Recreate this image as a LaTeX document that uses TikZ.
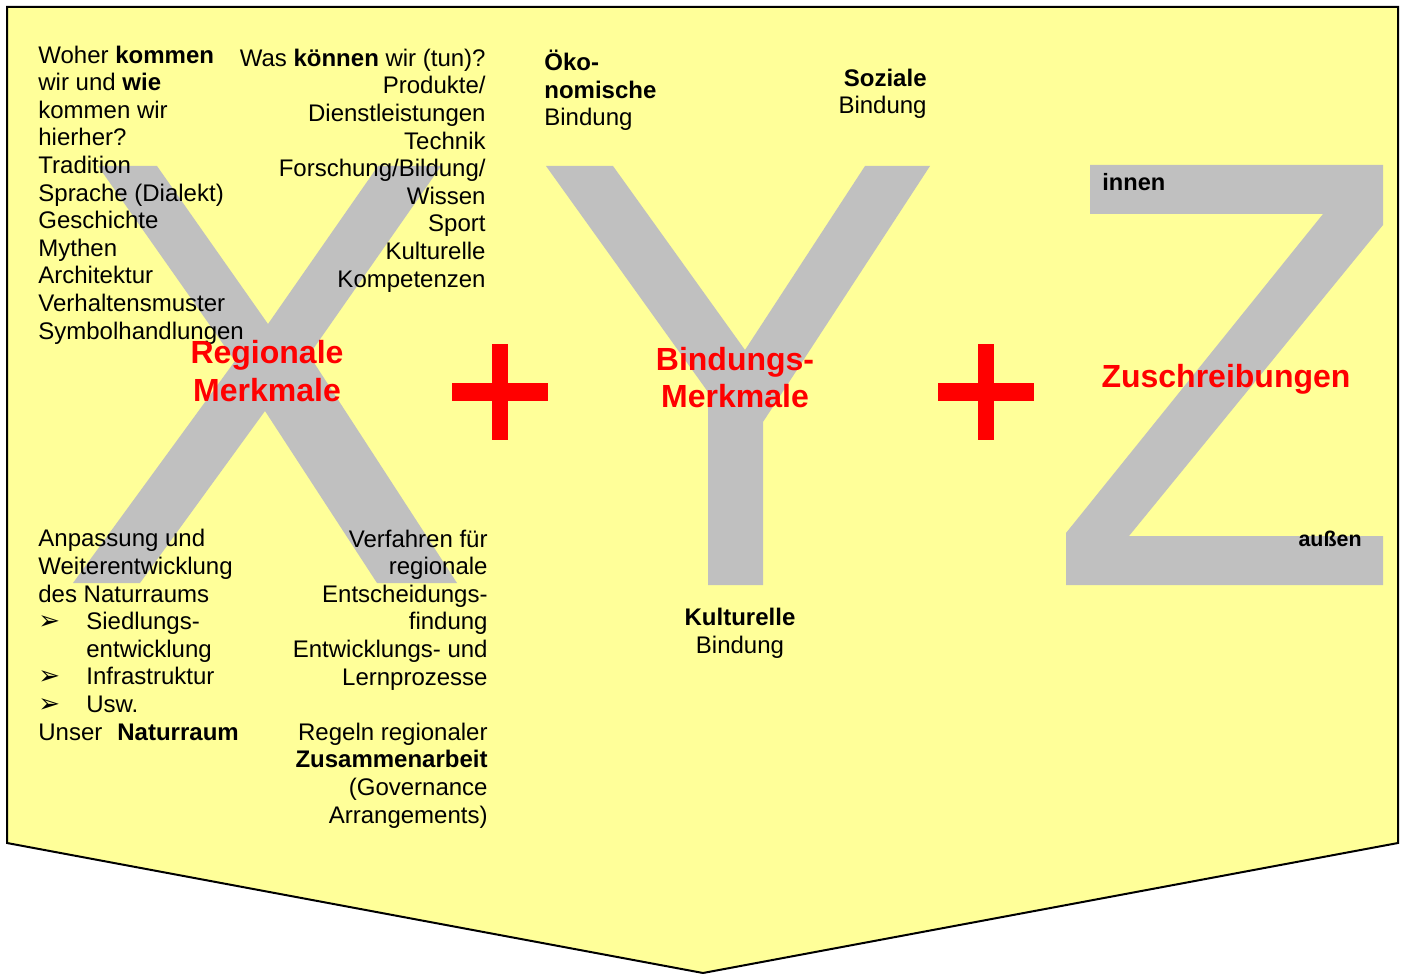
\documentclass[tikz,border=0pt]{standalone}
\usepackage{fontspec}
\setmainfont{Liberation Sans}
\newfontfamily\arrowfont{DejaVu Sans}
\usepackage{xcolor}
\definecolor{paleyellow}{HTML}{FFFF99}
\definecolor{lettergray}{HTML}{C0C0C0}
\tikzset{
  sheet/.style={draw=black,line width=1pt,fill=paleyellow,line join=miter},
  bigletter/.style={fill=lettergray},
  plusbar/.style={fill=red},
  bodytext/.style={inner sep=0pt,font=\fontsize{12}{13.8}\selectfont},
  keytext/.style={inner sep=0pt,text=red,align=center,
    font=\fontsize{16}{18.8}\selectfont\bfseries},
  sidetext/.style={inner sep=0pt,font=\fontsize{11.8}{13}\selectfont\bfseries}
}
\newcommand{\pfeil}{\makebox[24pt][l]{\arrowfont\fontsize{13}{13}\selectfont ➢}}
\newcommand{\einzug}{\hspace*{24pt}}

\begin{document}
\begin{tikzpicture}[x=0.5pt,y=-0.5pt]
  \useasboundingbox (0,0) rectangle (1405,974);
  % arrow-shaped sheet
  \draw[sheet] (7,7) -- (1398,7) -- (1398,843) -- (703,973) -- (7,843) -- cycle;

  % X + Y + Z
  \fill[bigletter] (98,166) -- (157,166) -- (268,324) -- (378,166) -- (441,166)
    -- (309,355) -- (457,583) -- (377,583) -- (265,411) -- (140,583)
    -- (73,583) -- (235,361) -- cycle;
  \fill[bigletter] (546,166) -- (613,166) -- (745,350) -- (865,166) -- (930,166)
    -- (763,422) -- (763,585) -- (708,585) -- (708,392) -- cycle;
  \fill[bigletter] (1090,165) -- (1383,165) -- (1383,225) -- (1129,536)
    -- (1383,536) -- (1383,585) -- (1066,585) -- (1066,533) -- (1323,214)
    -- (1090,214) -- cycle;
  \foreach \cx in {500,986} {
    \fill[plusbar] (\cx-48,383) rectangle (\cx+48,401);
    \fill[plusbar] (\cx-8,344) rectangle (\cx+8,440);
  }

  % X: regionale Merkmale (base = last line)
  \node[bodytext,align=left,anchor=base west] (herkunft) at (38,339)
    {Woher \textbf{kommen}\\wir und \textbf{wie}\\kommen wir\\hierher?\\Tradition\\
     Sprache (Dialekt)\\Geschichte\\Mythen\\Architektur\\Verhaltensmuster\\Symbolhandlungen};
  \node[bodytext,align=right,anchor=base east] (koennen) at (486,287)
    {Was \textbf{können} wir (tun)?\\Produkte/\\Dienstleistungen\\Technik\\
     Forschung/Bildung/\\Wissen\\Sport\\Kulturelle\\Kompetenzen};
  \node[bodytext,align=left,anchor=base west] (naturraum) at (38,740)
    {Anpassung und\\Weiterentwicklung\\des Naturraums\\\pfeil Siedlungs-\\
     \einzug entwicklung\\\pfeil Infrastruktur\\\pfeil Usw.\\
     Unser\hspace{7.5pt}\textbf{Naturraum}};
  \node[bodytext,align=right,anchor=base east] (verfahren) at (488,823)
    {Verfahren für\\regionale\\Entscheidungs-\\findung\\Entwicklungs- und\\
     Lernprozesse\\[13.8pt]Regeln regionaler\\\textbf{Zusammenarbeit}\\
     (Governance\\Arrangements)};
  \node[keytext,anchor=base] (regional) at (267,401) {Regionale\\Merkmale};

  % Y: Bindungs-Merkmale
  \node[bodytext,align=left,anchor=base west] (oekonom) at (544,126)
    {\textbf{Öko-}\\\textbf{nomische}\\Bindung};
  \node[bodytext,align=right,anchor=base east] (sozial) at (927,114)
    {\textbf{Soziale}\\Bindung};
  \node[bodytext,align=center,anchor=base] (kultur) at (740,653)
    {\textbf{Kulturelle}\\Bindung};
  \node[keytext,anchor=base] (bindung) at (735,408) {Bindungs-\\Merkmale};

  % Z: Zuschreibungen
  \node[sidetext,anchor=base west] (innen) at (1102,191) {innen};
  \node[sidetext,anchor=base east,font=\fontsize{10.7}{13}\selectfont\bfseries]
    (aussen) at (1362,546) {außen};
  \node[keytext,anchor=base] (zuschreib) at (1226,387) {Zuschreibungen};
\end{tikzpicture}
\end{document}
